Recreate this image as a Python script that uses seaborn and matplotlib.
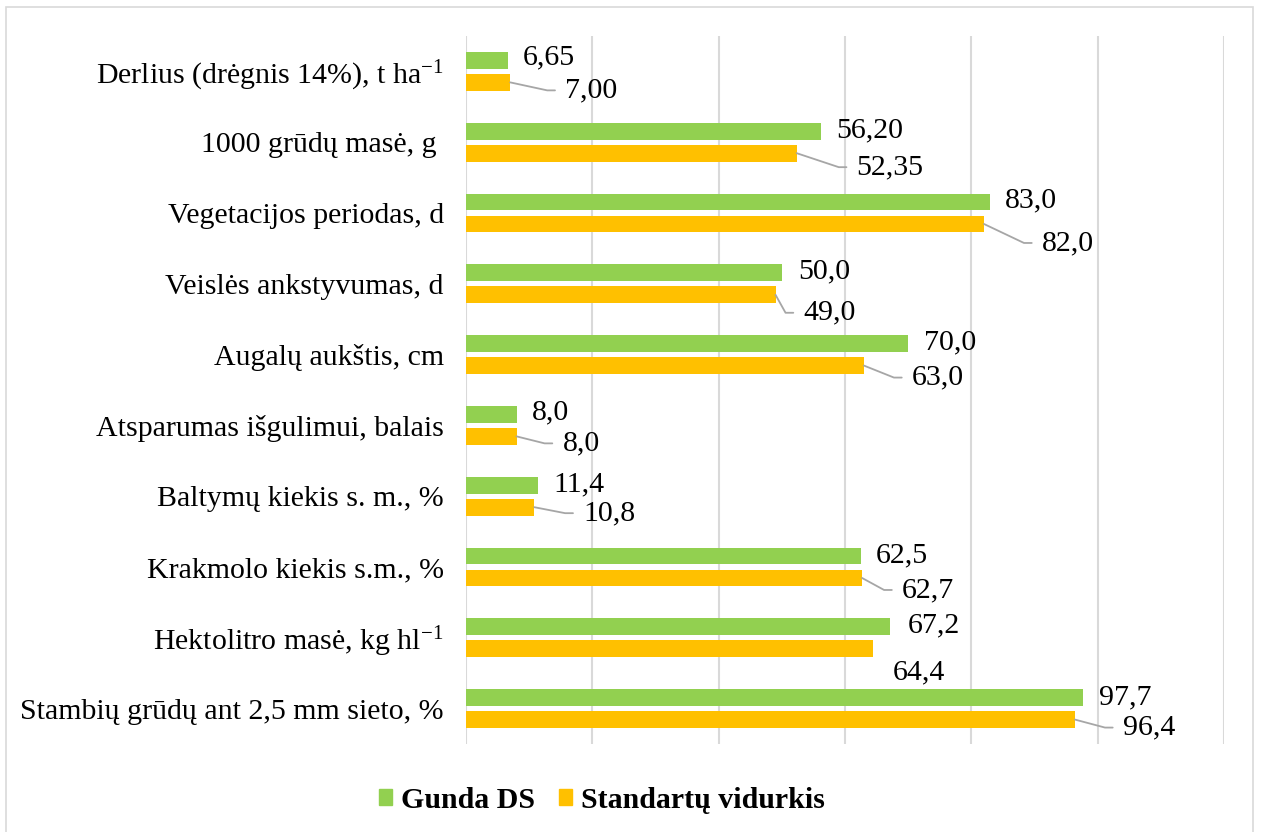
import matplotlib
matplotlib.use("Agg")
import matplotlib.pyplot as plt
import matplotlib.patches as mpatches
import seaborn as sns
import pandas as pd
import numpy as np

sns.set_style("white")
plt.rcParams["font.family"] = ["Liberation Serif", "DejaVu Serif"]
plt.rcParams["mathtext.default"] = "regular"
plt.rcParams["text.color"] = "black"
plt.rcParams["ytick.color"] = "black"

categories = [
    "Derlius (drėgnis 14%), t ha$^{-1}$",
    "1000 grūdų masė, g ",
    "Vegetacijos periodas, d",
    "Veislės ankstyvumas, d",
    "Augalų aukštis, cm",
    "Atsparumas išgulimui, balais",
    "Baltymų kiekis s. m., %",
    "Krakmolo kiekis s.m., %",
    "Hektolitro masė, kg hl$^{-1}$",
    "Stambių grūdų ant 2,5 mm sieto, %",
]
gunda = [6.65, 56.20, 83.0, 50.0, 70.0, 8.0, 11.4, 62.5, 67.2, 97.7]
standart = [7.00, 52.35, 82.0, 49.0, 63.0, 8.0, 10.8, 62.7, 64.4, 96.4]
gunda_labels = ["6,65", "56,20", "83,0", "50,0", "70,0", "8,0", "11,4", "62,5", "67,2", "97,7"]
standart_labels = ["7,00", "52,35", "82,0", "49,0", "63,0", "8,0", "10,8", "62,7", "64,4", "96,4"]
series = ["Gunda DS", "Standartų vidurkis"]
colors = ["#92D050", "#FFC000"]

# label offsets in pixels from bar end (dx, dy), leader line flag
green_off = [(15, 3), (15, 1), (15, 2), (16, 1), (16, 1), (15, 2), (15, 1), (15, 1), (17, 1), (16, 0)]
orange_off = [(55, -8), (60, -14), (58, -19), (28, -18), (48, -12), (46, -7), (49, -6), (40, -12), (20, -24), (48, -8)]
leader = [True, True, True, True, True, True, True, True, False, True]

df = pd.DataFrame({
    "cat": categories * 2,
    "value": gunda + standart,
    "series": [series[0]] * len(categories) + [series[1]] * len(categories),
})

fig = plt.figure(figsize=(12.61, 8.32), dpi=100)
ax = fig.add_axes([466 / 1261, 1 - 744 / 832, (1224 - 466) / 1261, (744 - 36) / 832])

sns.barplot(data=df, y="cat", x="value", hue="series", orient="h",
            palette=colors, saturation=1, width=0.62, gap=0.23, ax=ax,
            legend=False, edgecolor="none")

ax.set_xlim(0, 120)
ax.set_xticks(np.arange(0, 121, 20))
ax.set_xticklabels([])
ax.tick_params(axis="x", length=0)
ax.tick_params(axis="y", length=0, pad=16, labelsize=21.5)
ax.xaxis.grid(True, color="#d9d9d9", lw=1.5)
ax.set_axisbelow(True)
for s in ax.spines.values():
    s.set_visible(False)
ax.set_xlabel("")
ax.set_ylabel("")

# bar centers from seaborn's own patches
bars = ax.patches
n = len(categories)
green_bars = bars[:n]
orange_bars = bars[n:2 * n]

for i in range(n):
    gb = green_bars[i]
    yc = gb.get_y() + gb.get_height() / 2
    dx, dy = green_off[i]
    ax.annotate(gunda_labels[i], xy=(gb.get_width(), yc), xytext=(dx, dy),
                textcoords="offset pixels", ha="left", va="center", fontsize=21.5)

    ob = orange_bars[i]
    yc = ob.get_y() + ob.get_height() / 2
    dx, dy = orange_off[i]
    if leader[i]:
        ang = np.degrees(np.arctan2(dy, max(dx - 18, 1)))
        arrow = dict(arrowstyle="-", color="#a6a6a6", lw=1.3, shrinkA=5, shrinkB=0,
                     relpos=(0, 0.5),
                     connectionstyle=f"angle,angleA=0,angleB={ang:.1f},rad=0")
    else:
        arrow = None
    ax.annotate(standart_labels[i], xy=(ob.get_width(), yc), xytext=(dx, dy),
                textcoords="offset pixels", ha="left", va="center", fontsize=21.5,
                arrowprops=arrow)

handles = [mpatches.Patch(color=c, label=s) for c, s in zip(colors, series)]
fig.legend(handles=handles, loc="center", bbox_to_anchor=(602 / 1261, 1 - 800 / 832),
           ncol=2, frameon=False, prop={"weight": "bold", "size": 21.5},
           handlelength=0.45, handleheight=0.45, handletextpad=0.3, columnspacing=0.8)

fig.patches.append(mpatches.Rectangle((6 / 1261, -0.05), (1253 - 6) / 1261, 1.05 - 7 / 832,
                                      transform=fig.transFigure, fill=False,
                                      edgecolor="#d9d9d9", lw=1.2))

plt.savefig("out.png", dpi=100)
